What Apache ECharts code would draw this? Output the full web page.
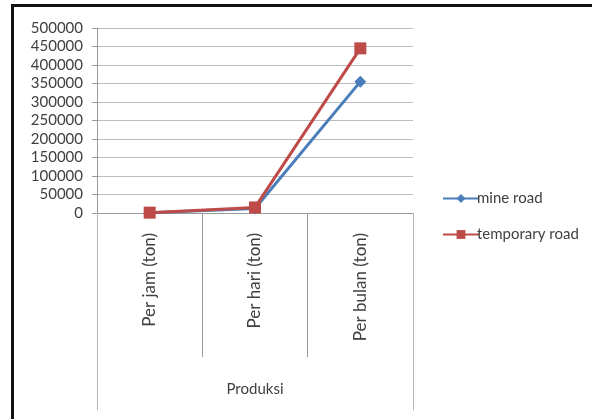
<!DOCTYPE html>
<html>
<head>
<meta charset="utf-8">
<script src="https://cdn.jsdelivr.net/npm/echarts@6/dist/echarts.min.js"></script>
<style>
  html, body { margin: 0; padding: 0; background: #fff; }
  #chart { width: 593px; height: 419px; }
</style>
</head>
<body>
<div id="chart"></div>
<script>
// data
var categories = ['Per jam (ton)', 'Per hari (ton)', 'Per bulan (ton)'];
var groupLabel = ['Produksi'];
var mineRoad = [800, 12000, 355000];
var temporaryRoad = [1000, 15000, 445000];

var chart = echarts.init(document.getElementById('chart'));
var txt = '#404040';
var font = 'Lato';

var option = {
    backgroundColor: '#fff',
    animation: false,
    textStyle: {fontFamily: font},
    grid: {left: 97, right: 180, top: 28, bottom: 206},
    legend: {
        orient: 'vertical',
        left: 437,
        top: 186,
        itemGap: 21,
        itemWidth: 36,
        itemHeight: 11,
        textStyle: {color: txt, fontSize: 15, fontFamily: font, padding: [0, 0, 0, -7]},
        data: ['mine road', 'temporary road']
    },
    xAxis: [{
        type: 'category',
        data: categories,
        boundaryGap: true,
        axisLine: {lineStyle: {color: '#9a9a9a'}},
        axisTick: {show: true, length: 144, lineStyle: {color: '#9a9a9a'}},
        axisLabel: {rotate: 90, margin: 20, color: txt, fontSize: 17, fontFamily: font}
    }, {
        type: 'category',
        position: 'bottom',
        data: groupLabel,
        boundaryGap: true,
        axisLine: {show: false},
        axisTick: {show: true, length: 197, lineStyle: {color: '#b5b5b5'}},
        axisLabel: {margin: 169, color: txt, fontSize: 15, fontFamily: font}
    }],
    yAxis: {
        type: 'value',
        min: 0,
        max: 500000,
        interval: 50000,
        axisLine: {show: true, lineStyle: {color: '#9a9a9a'}},
        axisTick: {show: true, length: 5, lineStyle: {color: '#9a9a9a'}},
        splitLine: {lineStyle: {color: '#bdbdbd'}},
        axisLabel: {
            margin: 14, color: txt, fontSize: 15, fontFamily: font,
            formatter: function (v) { return String(v); }
        }
    },
    series: [{
        name: 'mine road',
        type: 'line',
        data: mineRoad,
        symbol: 'diamond',
        symbolSize: 12,
        lineStyle: {width: 3, color: '#4a7ebb'},
        itemStyle: {color: '#4a7ebb'}
    }, {
        name: 'temporary road',
        type: 'line',
        data: temporaryRoad,
        symbol: 'rect',
        symbolSize: 12,
        lineStyle: {width: 3, color: '#be4b48'},
        itemStyle: {color: '#be4b48'}
    }],
    graphic: [
        {type: 'rect', shape: {x: 11, y: 4, width: 581, height: 3}, style: {fill: '#111'}},
        {type: 'rect', shape: {x: 11, y: 4, width: 3, height: 415}, style: {fill: '#111'}}
    ]
};

chart.setOption(option);
</script>
</body>
</html>
